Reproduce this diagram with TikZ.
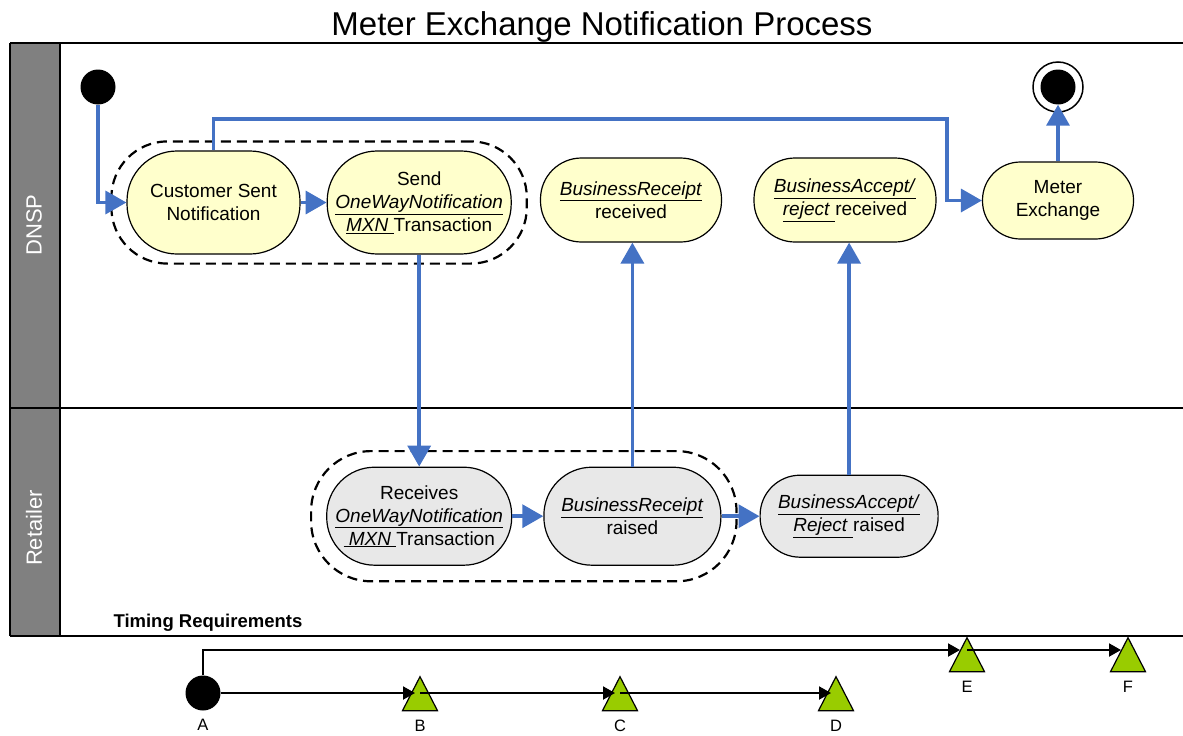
\documentclass[tikz,border=0pt]{standalone}
\usepackage{fontspec}
\setmainfont{Liberation Sans}
\usetikzlibrary{arrows.meta,positioning,fit,shapes.geometric}

\definecolor{flowblue}{HTML}{4472C4}
\definecolor{dnspfill}{HTML}{FFFFCC}
\definecolor{retfill}{HTML}{E8E8E8}
\definecolor{lanegray}{HTML}{808080}
\definecolor{markgreen}{HTML}{99CC00}

\tikzset{
  act/.style={draw, line width=1.2pt, rectangle, rounded corners=#1, inner sep=0pt, align=center,
    font=\fontsize{19}{23}\selectfont},
  dnsp/.style={act=#1, fill=dnspfill},
  ret/.style={act=#1, fill=retfill},
  flow/.style={draw=flowblue, line width=3.5pt, -{Triangle[length=21pt,width=23pt,fill=flowblue]}},
  group/.style={draw, line width=2.2pt, dash pattern=on 10pt off 6pt, rectangle},
  tick/.style={line width=2pt, -{Triangle[length=12pt,width=13pt]}},
  milestone/.style={draw, line width=1.2pt, fill=markgreen, isosceles triangle, isosceles triangle stretches,
    shape border rotate=90, minimum width=35pt, minimum height=34pt, inner sep=0pt},
  tlabel/.style={font=\fontsize{16.5}{20}\selectfont, label distance=5pt},
  dot/.style={circle, fill=black, minimum size=35pt, inner sep=0pt},
  lanelabel/.style={rotate=90, text=white, font=\fontsize{22}{26}\selectfont}
}

\begin{document}
\begin{tikzpicture}[x=1pt, y=-1pt]
\useasboundingbox (0,0) rectangle (1183,736);

% lanes
\fill[lanegray] (10,43) rectangle (60,636);
\draw[line width=1.5pt] (10,43) -- (1183,43);
\draw[line width=1.5pt] (10,408) -- (1183,408);
\draw[line width=1.5pt] (10,636) -- (1183,636);
\draw[line width=1.5pt] (10,43) -- (10,636);
\draw[line width=1.5pt] (60,43) -- (60,636);
\node[lanelabel] (dnsplbl) at (34,225) {DNSP};
\node[lanelabel] (retlbl) at (34,528) {Retailer};

\node[anchor=base, font=\fontsize{33}{40}\selectfont] (title) at (602,35) {Meter Exchange Notification Process};

% DNSP
\node[dot] (start) at (98,87) {};
\node[circle, draw, line width=1.5pt, minimum size=50pt, inner sep=0pt] (finish) at (1058,87) {};
\node[dot] (finishdot) at (finish) {};

\node[dnsp=50pt, minimum width=173pt, minimum height=103pt] (cust) at (213.5,202.5) {Customer Sent\\Notification};
\node[dnsp=50pt, minimum width=184pt, minimum height=103pt, right=26pt of cust] (send)
  {Send\\\underline{\textit{OneWayNotification}}\\\underline{\textit{MXN}\ }Transaction};
\node[dnsp=41pt, minimum width=181pt, minimum height=84pt] (brr) at (631,200)
  {\underline{\textit{BusinessReceipt}}\\received};
\node[dnsp=41pt, minimum width=182pt, minimum height=84pt] (bar) at (845,200)
  {\underline{\textit{BusinessAccept/}}\\\underline{\textit{reject}\ }received};
\node[dnsp=38pt, minimum width=151pt, minimum height=77pt] (meter) at (1058,200.5) {Meter\\Exchange};

% Retailer
\node[ret=48pt, minimum width=185pt, minimum height=98pt, below=212pt of send] (recv)
  {Receives\\\underline{\textit{OneWayNotification}}\\\underline{\ \textit{MXN}\ }Transaction};
\node[ret=48pt, minimum width=177pt, minimum height=98pt, right=31pt of recv] (brraise)
  {\underline{\textit{BusinessReceipt}}\\raised};
\node[ret=40pt, minimum width=178pt, minimum height=82pt, right=38pt of brraise] (barraise)
  {\underline{\textit{BusinessAccept/}}\\\underline{\textit{Reject}\ }raised};

\node[group, fit=(cust)(send), inner xsep=15pt, inner ysep=9pt, rounded corners=56pt] (sendgrp) {};
\node[group, fit=(recv)(brraise), inner xsep=15pt, inner ysep=15.5pt, rounded corners=60pt] (recvgrp) {};

\coordinate (bend) at (947,119);
\draw[flow] (start.south) |- (cust.west);
\draw[flow] (cust.east) -- (send.west);
\draw[flow] (cust.north) |- (bend) |- (meter.west);
\draw[flow] (meter.north) -- (meter.north |- finishdot.south);
\draw[flow] (send.south) -- (send.south |- recv.north);
\draw[flow] (recv.east) -- (brraise.west);
\draw[flow] (brraise.east) -- (brraise.east -| barraise.west);
\draw[flow] (brraise.north) -- (brraise.north |- brr.south);
\draw[flow] (barraise.north) -- (barraise.north |- bar.south);

% timing
\node[anchor=base west, font=\bfseries\fontsize{18.5}{22}\selectfont] (timing) at (110,627) {Timing Requirements};

\node[dot, label={[tlabel]below:A}] (A) at (203,693) {};
\node[milestone, label={[tlabel]below:B}] (B) at (420,700) {};
\node[milestone, label={[tlabel]below:C}] (C) at (620,700) {};
\node[milestone, label={[tlabel]below:D}] (D) at (836,700) {};
\node[milestone, label={[tlabel]below:E}] (E) at (967,661) {};
\node[milestone, label={[tlabel]below:F}] (F) at (1128,661) {};
\coordinate (upper) at (0,650);

\draw[tick, shorten >=5pt] (A) -- (B.center |- A);
\draw[tick, shorten >=5pt] (B.center |- A) -- (C.center |- A);
\draw[tick, shorten >=5pt] (C.center |- A) -- (D.center |- A);
\draw[tick, shorten >=7pt] (A.north) |- (E.center |- upper);
\draw[tick, shorten >=7pt] (E.center |- upper) -- (F.center |- upper);
\end{tikzpicture}
\end{document}
